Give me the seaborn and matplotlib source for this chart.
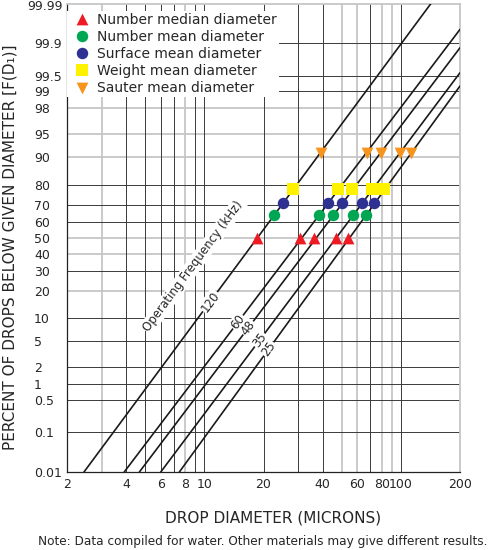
import numpy as np
import pandas as pd
import matplotlib
matplotlib.use('Agg')
import matplotlib.pyplot as plt
import seaborn as sns
from matplotlib.ticker import NullLocator
from statistics import NormalDist

# Operating frequency lines (kHz) - each is a straight line on log-probability paper
freq_labels = ['120', '60', '48', '35', '25']
line_d_start = [2.44, 3.91, 4.67, 6.00, 7.46]
line_p_start = [0.01, 0.01, 0.01, 0.01, 0.01]
line_d_end = [142.3, 200, 200, 200, 200]
line_p_end = [99.99, 99.953, 99.872, 99.56, 99.20]

# Drop diameters (microns) for each frequency, same order as freq_labels
median_d = [18.5, 30.7, 36.3, 46.6, 54.0]
number_mean_d = [22.7, 38.5, 45.0, 57.3, 66.5]
surface_mean_d = [25.2, 42.7, 50.4, 63.2, 73.3]
weight_mean_d = [28.4, 48.1, 56.2, 71.6, 82.4]
sauter_mean_d = [39.2, 67.0, 79.3, 99.0, 112.7]

# Percent level of each diameter type
median_pct = 50
number_mean_pct = 64.1
surface_mean_pct = 71.1
weight_mean_pct = 77.9
sauter_mean_pct = 91.1

series_names = ['Number median diameter', 'Number mean diameter', 'Surface mean diameter',
                'Weight mean diameter', 'Sauter mean diameter']
series_d = [median_d, number_mean_d, surface_mean_d, weight_mean_d, sauter_mean_d]
series_pct = [median_pct, number_mean_pct, surface_mean_pct, weight_mean_pct, sauter_mean_pct]

x_ticks = [2, 4, 6, 8, 10, 20, 40, 60, 80, 100, 200]
y_ticks = [99.99, 99.9, 99.5, 99, 98, 95, 90, 80, 70, 60, 50, 40, 30, 20, 10, 5, 2, 1, 0.5, 0.1, 0.01]

# styles
markers = {'Number median diameter': ('^', '#ED1C24', 72),
           'Number mean diameter': ('o', '#00A651', 68),
           'Surface mean diameter': ('o', '#2E3192', 68),
           'Weight mean diameter': ('s', '#FFF200', 72),
           'Sauter mean diameter': ('v', '#F7941D', 72)}
gray = '#c6c6c6'
dark = '#3a3a3a'

# probability scale
nd = NormalDist()
_ppf = np.vectorize(nd.inv_cdf, otypes=[float])
_cdf = np.vectorize(nd.cdf, otypes=[float])

def to_z(p):
    p = np.clip(np.asarray(p, dtype=float) / 100.0, 1e-12, 1 - 1e-12)
    return _ppf(p)

def from_z(z):
    return _cdf(np.asarray(z, dtype=float)) * 100.0

sns.set_style('ticks')
plt.rcParams['font.family'] = ['DejaVu Sans']

fig = plt.figure(figsize=(4.94, 5.5), dpi=100)
ax = fig.add_axes([67 / 494, 1 - 472 / 550, 393 / 494, 468.5 / 550])
ax.set_xscale('log')
ax.set_yscale('function', functions=(to_z, from_z))
ax.set_xlim(2, 200)
ax.set_ylim(0.01, 99.99)

# grid (probability paper: some lines light gray, some dark)
for v in [3, 8, 50, 60, 80, 90]:
    ax.axvline(v, color=gray, lw=1.3, zorder=1)
for v in [4, 5, 6, 7, 9, 10, 20, 30, 40, 70, 100]:
    ax.axvline(v, color=dark, lw=0.7, zorder=1.2)
for v in [98, 95, 90, 50, 40, 20]:
    ax.axhline(v, color=gray, lw=1.3, zorder=1)
for v in [99.9, 99.5, 99, 80, 70, 60, 30, 10, 5, 2, 1, 0.5, 0.1]:
    ax.axhline(v, color=dark, lw=0.7, zorder=1.2)

for sp in ['top', 'right']:
    ax.spines[sp].set_color(gray)
    ax.spines[sp].set_linewidth(1.3)
for sp in ['left', 'bottom']:
    ax.spines[sp].set_color('#222222')
    ax.spines[sp].set_linewidth(0.9)

# frequency lines
for i, f in enumerate(freq_labels):
    df = pd.DataFrame({'d': [line_d_start[i], line_d_end[i]], 'p': [line_p_start[i], line_p_end[i]]})
    sns.lineplot(data=df, x='d', y='p', color='#1a1a1a', lw=1.2, ax=ax, zorder=3, sort=False)

# line labels sit on each line
label_pct = [15.5, 9.06, 7.61, 5.23, 3.87]
for i, f in enumerate(freq_labels):
    z0, z1 = to_z(line_p_start[i]), to_z(line_p_end[i])
    l0, l1 = np.log10(line_d_start[i]), np.log10(line_d_end[i])
    t = (to_z(label_pct[i]) - z0) / (z1 - z0)
    xl = 10 ** (l0 + t * (l1 - l0))
    p0 = ax.transData.transform((line_d_start[i], line_p_start[i]))
    p1 = ax.transData.transform((line_d_end[i], line_p_end[i]))
    ang = np.degrees(np.arctan2(p1[1] - p0[1], p1[0] - p0[0]))
    ax.text(xl, label_pct[i], f, rotation=ang, rotation_mode='anchor', ha='center', va='center',
            fontsize=8.5, zorder=4, bbox=dict(fc='white', ec='none', pad=0.6))
    if i == 0:
        ax.text(8.79, 32.8, 'Operating Frequency (kHz)', rotation=ang, rotation_mode='anchor',
                ha='center', va='center', fontsize=8.5, zorder=4,
                bbox=dict(fc='white', ec='none', pad=1.0))

# markers
for name, d, pct in zip(series_names, series_d, series_pct):
    m, c, s = markers[name]
    sns.scatterplot(x=d, y=[pct] * len(d), marker=m, color=c, s=s, linewidth=0,
                    label=name, ax=ax, zorder=5)

ax.legend(loc='upper left', bbox_to_anchor=(0, 0.985), borderaxespad=0, frameon=True,
          facecolor='white', edgecolor='none', framealpha=1, fancybox=False, fontsize=10,
          handlelength=1.86, handletextpad=0.15, borderpad=0.15, labelspacing=0.23,
          scatteryoffsets=[0.5])

# ticks
ax.xaxis.set_minor_locator(NullLocator())
ax.set_xticks(x_ticks)
ax.set_xticklabels([str(v) for v in x_ticks])
ax.tick_params(axis='x', which='major', length=0, pad=4.5, labelsize=9)

ax.set_yticks(y_ticks)
ax.set_yticklabels(['' if v == 99.99 else f'{v:g}' for v in y_ticks])
ax.set_yticks([99, 99.5, 99.9], labels=['', '', ''], minor=True)
ax.tick_params(axis='y', which='major', length=0, pad=23.8, labelsize=9)
ax.tick_params(axis='y', which='minor', length=3, width=0.8, color='#222222')
for lab in ax.get_yticklabels():
    lab.set_horizontalalignment('left')
ax.annotate('99.99', xy=(0, 99.99), xycoords=('axes fraction', 'data'), xytext=(-3, -2),
            textcoords='offset points', ha='right', va='center', fontsize=9)

ax.set_xlabel('')
ax.set_ylabel('')
fig.text(10 / 494, 1 - 247 / 550, 'PERCENT OF DROPS BELOW GIVEN DIAMETER [F(D\u2081)]',
         rotation=90, ha='center', va='center', fontsize=11)
fig.text(272.8 / 494, 1 - 518 / 550, 'DROP DIAMETER (MICRONS)', ha='center', va='center', fontsize=11)
fig.text(263 / 494, 1 - 542 / 550,
         'Note: Data compiled for water. Other materials may give different results.',
         ha='center', va='center', fontsize=8.7)

fig.savefig('out.png', dpi=100)
